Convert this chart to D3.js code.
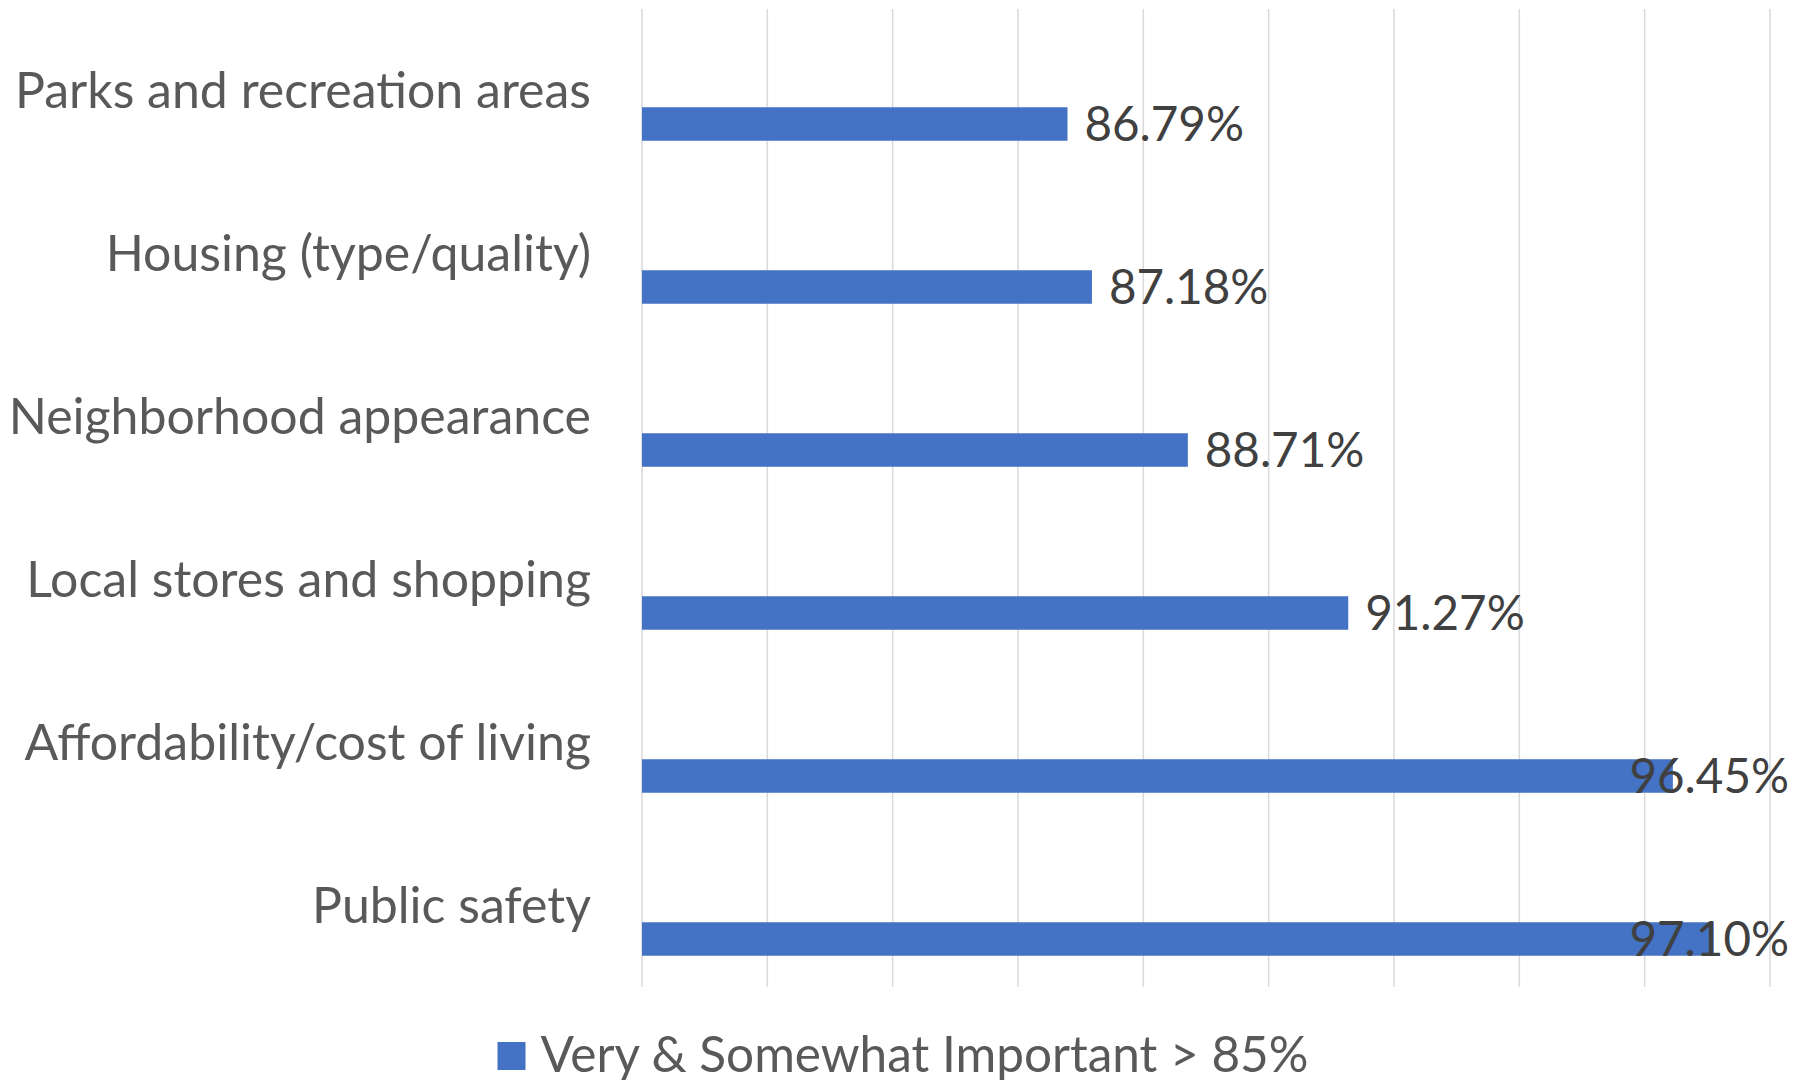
<!DOCTYPE html>
<meta charset="utf-8">
<title>importance bars</title>
<style>
body {
  margin: 0px;
  background: #fff;
}
text {
  font-family: Lato, "Open Sans", sans-serif;
}
.grid line {
  stroke: #d9d9d9;
  stroke-width: 1.5;
}
.cat {
  fill: #595959;
  font-size: 50px;
}
.lbl {
  fill: #404040;
  font-size: 47.5px;
}
.legend text {
  fill: #595959;
  font-size: 49.5px;
}
</style>
<script src="https://cdnjs.cloudflare.com/ajax/libs/d3/7.8.5/d3.min.js"></script>
<body>
<script>
var width = 1806, height = 1080;

// data, top to bottom
var categories = ["Parks and recreation areas", "Housing (type/quality)", "Neighborhood appearance",
                  "Local stores and shopping", "Affordability/cost of living", "Public safety"];
var values = [86.79, 87.18, 88.71, 91.27, 96.45, 97.10];
var seriesName = "Very & Somewhat Important > 85%";
var ticks = [80, 82, 84, 86, 88, 90, 92, 94, 96, 98];

var margin = {top: 9, right: 36, bottom: 93, left: 642};

var svg = d3.select("body").append("svg")
    .attr("width", width)
    .attr("height", height);

var x = d3.scaleLinear()
    .domain([80, 98])
    .range([margin.left, width - margin.right]);

var y = d3.scaleBand()
    .domain(categories)
    .range([margin.top, height - margin.bottom]);

var barH = 33.5;

// gridlines
svg.append("g").attr("class", "grid")
  .selectAll("line")
    .data(ticks)
  .enter().append("line")
    .attr("x1", x).attr("x2", x)
    .attr("y1", margin.top)
    .attr("y2", height - margin.bottom);

// category labels
svg.append("g").selectAll("text")
    .data(categories)
  .enter().append("text")
    .attr("class", "cat")
    .attr("x", 591)
    .attr("y", function(d) { return y(d) + y.bandwidth() / 2; })
    .attr("dy", "0.35em")
    .attr("text-anchor", "end")
    .text(function(d) { return d; });

// bars
svg.append("g").selectAll("rect")
    .data(values)
  .enter().append("rect")
    .attr("x", x(80))
    .attr("y", function(d, i) { return y(categories[i]) + y.bandwidth() / 2 + barH / 2; })
    .attr("width", function(d) { return x(d) - x(80); })
    .attr("height", barH)
    .attr("fill", "#4472c4");

// data labels, kept inside chart area
var fmt = function(d) { return d.toFixed(2) + "%"; };
svg.append("g").selectAll("text")
    .data(values)
  .enter().append("text")
    .attr("class", "lbl")
    .attr("y", function(d, i) { return y(categories[i]) + y.bandwidth() / 2 + barH; })
    .attr("dy", "0.35em")
    .text(fmt)
    .attr("x", function(d) {
      var w = this.getComputedTextLength();
      return Math.min(x(d) + 17, 1789 - w);
    });

// legend
var legend = svg.append("g").attr("class", "legend");
var lt = legend.append("text")
    .attr("y", 1055)
    .attr("dy", "0.35em")
    .text(seriesName);
var lw = lt.node().getComputedTextLength();
var lx = width / 2 - (lw + 43) / 2;
legend.append("rect")
    .attr("x", lx)
    .attr("y", 1042)
    .attr("width", 28)
    .attr("height", 28)
    .attr("fill", "#4472c4");
lt.attr("x", lx + 43);
</script>
